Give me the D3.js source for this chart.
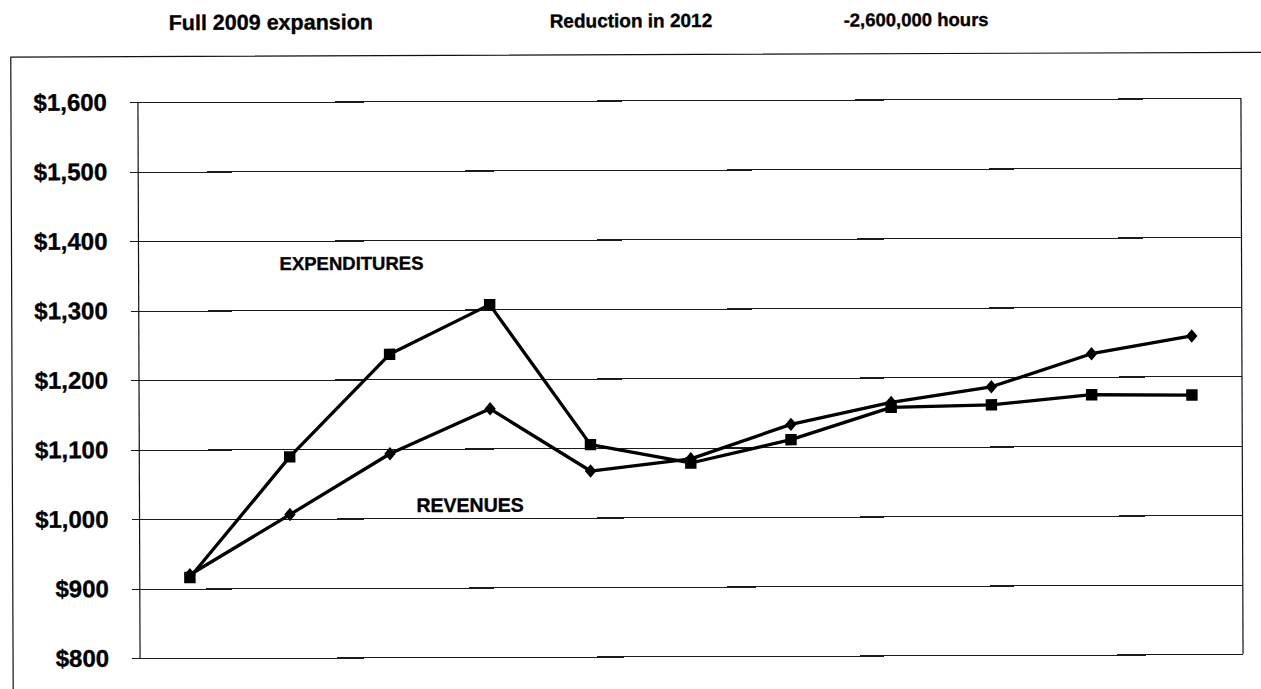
<!DOCTYPE html>
<html>
<head>
<meta charset="utf-8">
<script src="https://cdn.jsdelivr.net/npm/d3@7"></script>
<style>
  html, body { margin: 0; padding: 0; background: #fff; }
  svg { display: block; }
  text { font-family: "Liberation Sans", Arial, sans-serif; font-weight: bold; fill: #000; stroke: #000; stroke-width: 0.35px; }
</style>
</head>
<body>
<svg id="chart" width="1261" height="689"></svg>
<script>
// Budget periods (not labelled on the axis)
const periods = [1, 2, 3, 4, 5, 6, 7, 8, 9, 10, 11];

// Millions of dollars
const expenditures = [916, 1089, 1236, 1307, 1105, 1078, 1111, 1157, 1160, 1174, 1173];
const revenues     = [920, 1006, 1093, 1157, 1067, 1084, 1133, 1164, 1186, 1233, 1258];

const yTicks = [800, 900, 1000, 1100, 1200, 1300, 1400, 1500, 1600];

const headings = [
  { text: "Full 2009 expansion", x: 170, y: 28, size: 21.5 },
  { text: "Reduction in 2012",   x: 551, y: 27, size: 19 },
  { text: "-2,600,000 hours",    x: 845, y: 27, size: 18.5 }
];

const seriesLabels = [
  { text: "EXPENDITURES", x: 280, y: 268.5, size: 18.5 },
  { text: "REVENUES",     x: 416, y: 511,   size: 19.5 }
];

const plot = { left: 139, right: 1242, top: 100.2, bottom: 656.2 };

const svg = d3.select("#chart");
// The whole sheet sits at a very slight tilt
const root = svg.append("g")
  .attr("transform", `rotate(-0.22, ${(plot.left + plot.right) / 2}, ${(plot.top + plot.bottom) / 2})`);

const x = d3.scaleBand().domain(periods).range([plot.left, plot.right]);
const y = d3.scaleLinear().domain([800, 1600]).range([plot.bottom, plot.top]);

// Outer frame (top and left edges visible)
root.append("path")
  .attr("d", `M12,740 L12,54.5 L1290,54.5`)
  .attr("fill", "none").attr("stroke", "#111").attr("stroke-width", 1.2);

// Headings
root.selectAll("text.heading").data(headings).join("text")
  .attr("class", "heading")
  .attr("x", d => d.x).attr("y", d => d.y)
  .style("font-size", d => d.size + "px")
  .text(d => d.text);

// Horizontal gridlines with short ticks to the left
const yAxis = d3.axisLeft(y)
  .tickValues(yTicks)
  .tickSize(-(plot.right - plot.left))
  .tickPadding(31)
  .tickFormat(d => "$" + d3.format(",")(d));

const gAxis = root.append("g")
  .attr("transform", `translate(${plot.left},0)`)
  .call(yAxis);
gAxis.select(".domain").remove();
gAxis.selectAll(".tick line")
  .attr("x1", -8)
  .attr("stroke", "#1a1a1a").attr("stroke-width", 1.1)
  .attr("shape-rendering", "crispEdges");
gAxis.selectAll(".tick text")
  .style("font-size", "24px")
  .style("font-family", '"Liberation Sans", Arial, sans-serif')
  .style("font-weight", "bold")
  .attr("fill", "#000");

// Plot side edges
root.append("line")
  .attr("x1", plot.left).attr("x2", plot.left)
  .attr("y1", y(1600)).attr("y2", y(800))
  .attr("stroke", "#111").attr("stroke-width", 1.2);
root.append("line")
  .attr("x1", plot.right).attr("x2", plot.right)
  .attr("y1", y(1600)).attr("y2", y(800))
  .attr("stroke", "#111").attr("stroke-width", 1.2);

const cx = p => x(p) + x.bandwidth() / 2;

const line = d3.line()
  .x((d, i) => cx(periods[i]))
  .y(d => y(d));

// Marker shapes
const diamond = {
  draw(ctx, size) {
    const h = Math.sqrt(size) * 0.55, w = h * 0.85;
    ctx.moveTo(0, -h); ctx.lineTo(w, 0); ctx.lineTo(0, h); ctx.lineTo(-w, 0); ctx.closePath();
  }
};

function drawSeries(values, symbolType, symbolSize) {
  root.append("path")
    .datum(values)
    .attr("fill", "none")
    .attr("stroke", "#000")
    .attr("stroke-width", 3.3)
    .attr("stroke-linejoin", "round")
    .attr("d", line);
  root.append("g").selectAll("path")
    .data(values).join("path")
    .attr("transform", (d, i) => `translate(${cx(periods[i])},${y(d)})`)
    .attr("d", d3.symbol().type(symbolType).size(symbolSize))
    .attr("fill", "#000");
}

drawSeries(revenues, diamond, 150);
drawSeries(expenditures, d3.symbolSquare, 130);

// Series labels
root.selectAll("text.series").data(seriesLabels).join("text")
  .attr("class", "series")
  .attr("x", d => d.x).attr("y", d => d.y)
  .style("font-size", d => d.size + "px")
  .text(d => d.text);
</script>
</body>
</html>
